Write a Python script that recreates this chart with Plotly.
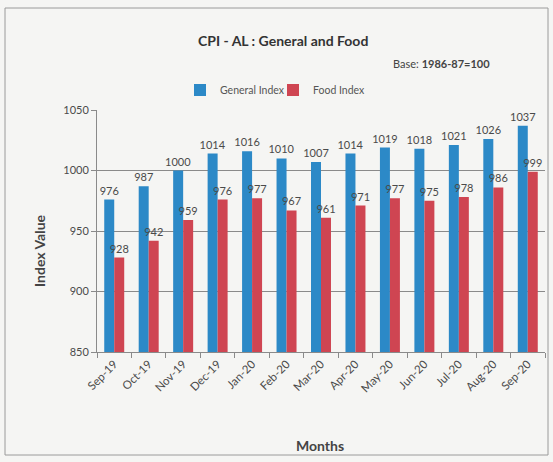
import plotly.graph_objects as go

months = ["Sep-19", "Oct-19", "Nov-19", "Dec-19", "Jan-20", "Feb-20", "Mar-20",
          "Apr-20", "May-20", "Jun-20", "Jul-20", "Aug-20", "Sep-20"]
general_index = [976, 987, 1000, 1014, 1016, 1010, 1007, 1014, 1019, 1018, 1021, 1026, 1037]
food_index = [928, 942, 959, 976, 977, 967, 961, 971, 977, 975, 978, 986, 999]
y_ticks = [850, 900, 950, 1000, 1050]

W, H = 553, 462
L, R, T, B = 97, 8, 110, 110
ph = H - T - B
pw = W - L - R

def py(p):
    return (H - B - p) / ph

def px(p):
    return (p - L) / pw

FONT = "Lato, 'Open Sans', sans-serif"
TXT = "#4a4a4a"

fig = go.Figure()
fig.add_trace(go.Bar(x=months, y=general_index, name="General Index",
                     marker=dict(color="#2C89C7", line=dict(width=0)),
                     text=general_index, textposition="outside", constraintext="none",
                     textfont=dict(size=11, color=TXT, family=FONT), cliponaxis=False))
fig.add_trace(go.Bar(x=months, y=food_index, name="Food Index",
                     marker=dict(color="#CF4552", line=dict(width=0)),
                     text=food_index, textposition="outside", constraintext="none",
                     textfont=dict(size=11, color=TXT, family=FONT), cliponaxis=False))

fig.update_layout(
    width=W, height=H,
    margin=dict(l=L, r=R, t=T, b=B),
    paper_bgcolor="#f5f5f3", plot_bgcolor="#f5f5f3",
    barmode="group", bargap=0.42, bargroupgap=0,
    font=dict(family=FONT, color=TXT, size=11),
    showlegend=True,
    legend=dict(orientation="h", x=px(180), xanchor="left", y=py(90), yanchor="middle",
                font=dict(size=10.5, color="#555"), itemwidth=30, bgcolor="rgba(0,0,0,0)",
                entrywidth=48, entrywidthmode="pixels", traceorder="normal"),
)
fig.update_yaxes(range=[850, 1050], tickvals=y_ticks, showgrid=True, gridcolor="#8a8a8a",
                 gridwidth=1, showline=True, linecolor="#8a8a8a", ticks="outside",
                 ticklen=5, tickcolor="#8a8a8a", tickfont=dict(size=11, color=TXT),
                 zeroline=False)
fig.update_xaxes(showline=True, linecolor="#8a8a8a", ticks="outside", tickson="boundaries",
                 ticklen=5, tickcolor="#8a8a8a", tickangle=-45,
                 tickfont=dict(size=11.5, color=TXT))

fig.add_annotation(text="<b>CPI - AL : General and Food</b>", xref="paper", yref="paper",
                   x=px(283), y=py(40), yanchor="middle", showarrow=False,
                   font=dict(size=14, color="#333"))
fig.add_annotation(text="Base: <b>1986-87=100</b>", xref="paper", yref="paper",
                   x=px(492), y=py(64), xanchor="right", yanchor="middle", showarrow=False,
                   font=dict(size=11, color="#444"))
fig.add_annotation(text="<b>Index Value</b>", xref="paper", yref="paper",
                   x=px(39), y=py(250), xanchor="center", yanchor="middle", textangle=-90,
                   showarrow=False, font=dict(size=14, color="#444"))
fig.add_annotation(text="<b>Months</b>", xref="paper", yref="paper",
                   x=px(320), y=py(445), xanchor="center", yanchor="middle",
                   showarrow=False, font=dict(size=14, color="#444"))
fig.add_shape(type="rect", xref="paper", yref="paper",
              x0=px(5), x1=px(548), y0=py(455), y1=py(8),
              line=dict(color="#9a9a9a", width=1), layer="below")

fig.write_html("out.html", config={"displayModeBar": False},
               post_script="document.body.style.margin='0';document.body.style.background='#f5f5f3';")
